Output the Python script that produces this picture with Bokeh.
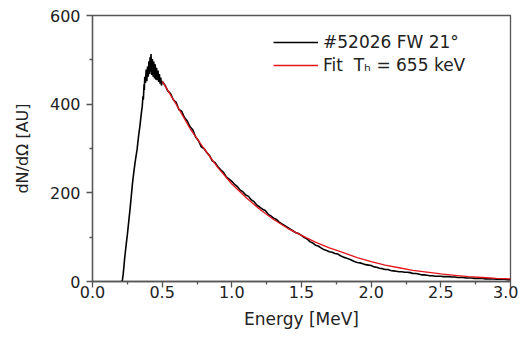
from bokeh.plotting import figure
from bokeh.models import Range1d, Legend, LegendItem, FixedTicker
from bokeh.embed import file_html
from bokeh.resources import INLINE

energy = [0.210, 0.215, 0.220, 0.225, 0.230, 0.237, 0.245, 0.250, 0.260, 0.270, 0.280,
          0.285, 0.290, 0.300, 0.310, 0.320, 0.330, 0.340, 0.350, 0.357, 0.362, 0.365,
          0.370, 0.372, 0.375, 0.380, 0.385, 0.390, 0.395, 0.400, 0.405, 0.410, 0.413,
          0.416, 0.420, 0.425, 0.430, 0.435, 0.440, 0.445, 0.450, 0.455, 0.460, 0.465,
          0.470, 0.475, 0.480, 0.485, 0.490, 0.495, 0.500,
          0.52, 0.54, 0.56, 0.58, 0.60, 0.62, 0.64, 0.66, 0.68, 0.70, 0.72, 0.74, 0.76,
          0.78, 0.80, 0.82, 0.84, 0.86, 0.88, 0.90, 0.92, 0.94, 0.96, 0.98, 1.00, 1.02,
          1.04, 1.06, 1.08, 1.10, 1.12, 1.14, 1.16, 1.18, 1.20, 1.22, 1.24, 1.26, 1.28,
          1.30, 1.32, 1.34, 1.36, 1.38, 1.40, 1.42, 1.44, 1.46, 1.48, 1.50, 1.52, 1.54,
          1.56, 1.58, 1.60, 1.62, 1.64, 1.66, 1.68, 1.70, 1.72, 1.74, 1.76, 1.78, 1.80,
          1.82, 1.84, 1.86, 1.88, 1.90, 1.92, 1.94, 1.96, 1.98, 2.00, 2.02, 2.04, 2.06,
          2.08, 2.10, 2.12, 2.14, 2.16, 2.18, 2.20, 2.22, 2.24, 2.26, 2.28, 2.30, 2.32,
          2.34, 2.36, 2.38, 2.40, 2.42, 2.44, 2.46, 2.48, 2.50, 2.52, 2.54, 2.56, 2.58,
          2.60, 2.62, 2.64, 2.66, 2.68, 2.70, 2.72, 2.74, 2.76, 2.78, 2.80, 2.82, 2.84,
          2.86, 2.88, 2.90, 2.92, 2.94, 2.96, 2.98, 3.00]
counts = [0, 4, 16, 32, 50, 70, 92, 105, 135, 165, 198,
          215, 230, 255, 278, 298, 326, 350, 378, 395, 418, 410,
          445, 432, 462, 448, 478, 452, 485, 462, 497, 468, 506,
          474, 513, 466, 502, 462, 496, 458, 490, 455, 482, 454,
          476, 450, 468, 446, 460, 442, 452,
          443, 430, 424, 410, 404, 388, 384, 370, 362, 349, 342, 326, 318,
          304, 300, 291, 284, 272, 268, 259, 252, 246, 236, 231, 226, 219,
          214, 206, 202, 195, 192, 184, 180, 172, 168, 163, 160, 152, 148,
          143, 140, 134, 130, 126, 122, 118, 114, 110, 108, 104, 99, 96,
          90, 87, 82, 80, 76, 72, 70, 67, 66, 63, 62, 58, 55,
          53, 51, 48, 45, 43, 42, 40, 38, 37, 36, 33, 32, 30,
          29, 27, 27, 25, 24, 23, 22, 22, 21, 21, 20, 18, 18,
          17, 15, 15, 14, 13, 13, 12, 12, 12, 11, 11, 11, 10,
          10, 9, 9, 9, 8, 8, 8, 7, 7, 7, 7, 6, 6,
          6, 6, 5, 5, 5, 5, 4, 4]

# Fit curve (T_h = 655 keV)
fit_energy = [0.5, 0.6, 0.7, 0.8, 0.9, 1.0, 1.1, 1.2, 1.3, 1.4, 1.5, 1.6, 1.7, 1.8,
              1.9, 2.0, 2.1, 2.2, 2.3, 2.4, 2.5, 2.6, 2.7, 2.8, 2.9, 3.0]
fit_counts = [452, 400, 345, 300, 257, 220, 190, 163, 140, 120, 104, 89, 76, 65,
              54, 45, 37, 31, 25, 21, 17, 14, 11, 9, 7, 6]

x_ticks = [0.0, 0.5, 1.0, 1.5, 2.0, 2.5, 3.0]
x_minor = [0.25, 0.75, 1.25, 1.75, 2.25, 2.75]
y_ticks = [0, 200, 400, 600]
y_minor = [100, 300, 500]
labels = ["#52026 FW 21°", "Fit  T\u2095 = 655 keV"]

FONT = "DejaVu Sans"
AX = "#555555"

p = figure(width=518, height=339, output_backend="svg", toolbar_location=None,
           x_range=Range1d(0, 3.0), y_range=Range1d(0, 600),
           min_border_left=92, min_border_right=8, min_border_top=15, min_border_bottom=58)

r_data = p.line(energy, counts, line_color="black", line_width=1.6)
r_fit = p.line(fit_energy, fit_counts, line_color="#e3161c", line_width=1.3)

p.xgrid.visible = False
p.ygrid.visible = False
p.outline_line_color = AX
p.outline_line_width = 1.3
p.background_fill_color = "white"

for ax in (p.xaxis[0], p.yaxis[0]):
    ax.axis_line_color = AX
    ax.axis_line_width = 1.3
    ax.major_tick_line_color = AX
    ax.minor_tick_line_color = AX
    ax.major_tick_line_width = 1.3
    ax.minor_tick_line_width = 1.3
    ax.major_tick_in = 0
    ax.minor_tick_in = 0
    ax.major_tick_out = 6
    ax.minor_tick_out = 3
    ax.major_label_text_font = FONT
    ax.major_label_text_font_size = "16px"
    ax.major_label_text_color = "#222222"
    ax.axis_label_text_font = FONT
    ax.axis_label_text_font_style = "normal"
    ax.axis_label_text_color = "#222222"

p.xaxis[0].ticker = FixedTicker(ticks=x_ticks, minor_ticks=x_minor)
p.xaxis.major_label_overrides = {t: f"{t:.1f}" for t in x_ticks}
p.xaxis.axis_label = "Energy [MeV]"
p.xaxis.axis_label_text_font_size = "17px"
p.xaxis.major_label_standoff = -2
p.xaxis.axis_label_standoff = 8

p.yaxis[0].ticker = FixedTicker(ticks=y_ticks, minor_ticks=y_minor)
p.yaxis.axis_label = "dN/dΩ [AU]"
p.yaxis.axis_label_text_font_size = "16px"
p.yaxis.major_label_standoff = 6
p.yaxis.axis_label_standoff = 15

legend = Legend(items=[LegendItem(label=labels[0], renderers=[r_data]),
                       LegendItem(label=labels[1], renderers=[r_fit])],
                location=(181, 206), padding=0, margin=0, spacing=3,
                glyph_width=45, glyph_height=20, label_height=20, label_standoff=5,
                label_text_font=FONT, label_text_font_size="17px", label_text_color="#222222",
                border_line_alpha=0, background_fill_alpha=0)
p.add_layout(legend)

open("out.html", "w").write(file_html(p, INLINE))
